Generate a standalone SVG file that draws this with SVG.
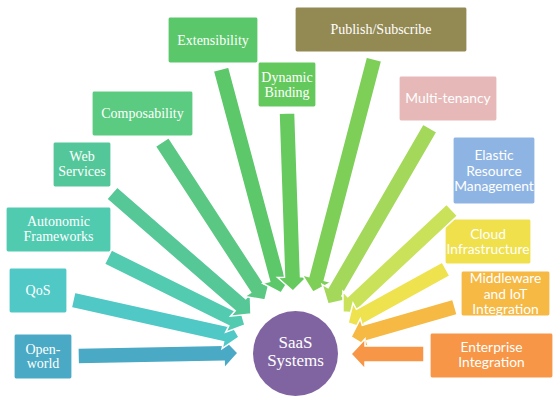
<svg xmlns="http://www.w3.org/2000/svg" width="560" height="402" viewBox="0 0 560 402">
<style>
.box{stroke:#ffffff;stroke-width:1.2}
.arr{stroke:#ffffff;stroke-width:1.5;stroke-linejoin:miter}
.ser{font-family:'Liberation Serif','DejaVu Serif',serif;font-size:14px;fill:#ffffff;text-anchor:middle}
.san{font-family:Lato,'Open Sans','Liberation Sans',sans-serif;font-size:13.8px;fill:#ffffff;text-anchor:middle}
</style>
<rect width="560" height="402" fill="#ffffff"/>
<g id="nodes">
<g id="n-extensibility"><rect class="box" x="168" y="17" width="90" height="46" rx="2" fill="#5ac86a"/><text class="ser" x="213" y="44.5">Extensibility</text></g>
<g id="n-dynamic-binding"><rect class="box" x="258" y="62" width="58" height="45" rx="2" fill="#63c95c"/><text class="ser" x="287" y="81.5">Dynamic</text><text class="ser" x="287" y="96.5">Binding</text></g>
<g id="n-composability"><rect class="box" x="92" y="91" width="101" height="45" rx="2" fill="#5acb80"/><text class="ser" x="142.5" y="118">Composability</text></g>
<g id="n-web-services"><rect class="box" x="53" y="142" width="58" height="45" rx="2" fill="#53c79a"/><text class="ser" x="82" y="161">Web</text><text class="ser" x="82" y="176">Services</text></g>
<g id="n-publish"><rect class="box" x="295" y="7" width="172" height="45" rx="2" fill="#938953"/><text class="ser" x="381" y="34">Publish/Subscribe</text></g>
<g id="n-multitenancy"><rect class="box" x="399" y="76" width="98" height="45" rx="2" fill="#e6b9b8"/><text class="san" x="448" y="103">Multi-tenancy</text></g>
<g id="n-elastic"><rect class="box" x="453" y="137" width="82" height="67" rx="2" fill="#8eb4e3"/><text class="san" x="494" y="160">Elastic</text><text class="san" x="494" y="175.5">Resource</text><text class="san" x="494" y="191">Management</text></g>
<g id="n-autonomic"><rect class="box" x="6" y="207" width="105" height="45" rx="2" fill="#50cbb0"/><text class="ser" x="58.5" y="226">Autonomic</text><text class="ser" x="58.5" y="241">Frameworks</text></g>
<g id="n-qos"><rect class="box" x="9" y="268" width="58" height="45" rx="2" fill="#50c8c6"/><text class="ser" x="38" y="295">QoS</text></g>
<g id="n-openworld"><rect class="box" x="14" y="334" width="58" height="45" rx="2" fill="#4aa9c4"/><text class="ser" x="43" y="353.5">Open-</text><text class="ser" x="43" y="368">world</text></g>
<g id="n-cloud"><rect class="box" x="445" y="219" width="86" height="45" rx="2" fill="#f0e04c"/><text class="san" x="488" y="239">Cloud</text><text class="san" x="488" y="254">Infrastructure</text></g>
<g id="n-middleware"><rect class="box" x="461" y="271" width="89" height="45" rx="2" fill="#f5b944"/><text class="san" x="505.5" y="283">Middleware</text><text class="san" x="505.5" y="298.5">and IoT</text><text class="san" x="505.5" y="313.5">Integration</text></g>
<g id="n-enterprise"><rect class="box" x="430" y="333" width="123" height="45" rx="2" fill="#f79646"/><text class="san" x="491.5" y="352">Enterprise</text><text class="san" x="491.5" y="367">Integration</text></g>
</g>
<g id="connectors">
<path class="arr" fill="#4aa9c4" transform="translate(78,356) rotate(-1.07)" d="M0,-8 H146 V-15 L160,0 L146,15 V8 H0 Z"/>
<path class="arr" fill="#50c8c6" transform="translate(73,300) rotate(12.57)" d="M0,-8 H156.1 V-15 L170.1,0 L156.1,15 V8 H0 Z"/>
<path class="arr" fill="#52cbb0" transform="translate(108,257) rotate(26.4)" d="M0,-8 H138.9 V-15 L152.9,0 L138.9,15 V8 H0 Z"/>
<path class="arr" fill="#56c898" transform="translate(112,193) rotate(41.04)" d="M0,-8 H170.3 V-15 L184.3,0 L170.3,15 V8 H0 Z"/>
<path class="arr" fill="#5ac882" transform="translate(162,142) rotate(56.9)" d="M0,-8 H174.6 V-15 L188.6,0 L174.6,15 V8 H0 Z"/>
<path class="arr" fill="#5cc86a" transform="translate(221,69) rotate(75)" d="M0,-8 H217.9 V-15 L231.9,0 L217.9,15 V8 H0 Z"/>
<path class="arr" fill="#66ca5e" transform="translate(287,113) rotate(88.07)" d="M0,-8 H164.1 V-15 L178.1,0 L164.1,15 V8 H0 Z"/>
<path class="arr" fill="#7ecf58" transform="translate(374,59) rotate(104.67)" d="M0,-8 H226.9 V-15 L240.9,0 L226.9,15 V8 H0 Z"/>
<path class="arr" fill="#a4d85a" transform="translate(430,128) rotate(120.1)" d="M0,-8 H189.4 V-15 L203.4,0 L189.4,15 V8 H0 Z"/>
<path class="arr" fill="#cae25a" transform="translate(452,210) rotate(136.9)" d="M0,-8 H135.3 V-15 L149.3,0 L135.3,15 V8 H0 Z"/>
<path class="arr" fill="#eee24e" transform="translate(446,269) rotate(151.14)" d="M0,-8 H97.9 V-15 L111.9,0 L97.9,15 V8 H0 Z"/>
<path class="arr" fill="#f5b944" transform="translate(455,307) rotate(163.91)" d="M0,-8 H94.2 V-15 L108.2,0 L94.2,15 V8 H0 Z"/>
<path class="arr" fill="#f79646" transform="translate(424,354) rotate(180)" d="M0,-8 H59 V-15 L73,0 L59,15 V8 H0 Z"/>
</g>
<g id="n-saas">
<circle cx="295.5" cy="353.5" r="42.5" fill="#8064a2"/>
<text class="ser" x="295.5" y="348" style="font-size:17px">SaaS</text>
<text class="ser" x="295.5" y="365.5" style="font-size:17px">Systems</text>
</g>
</svg>
